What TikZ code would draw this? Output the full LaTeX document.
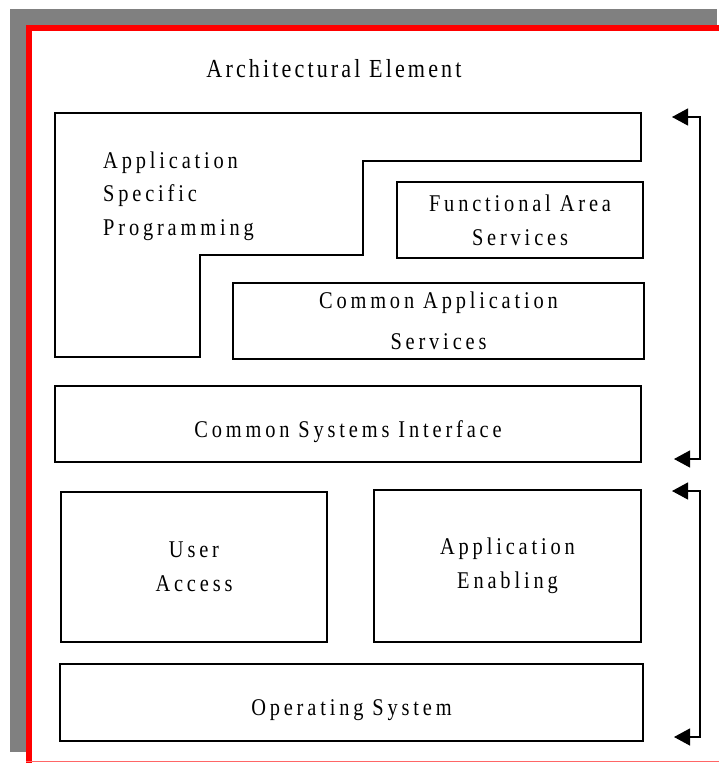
\documentclass[tikz,border=0pt]{standalone}
\usepackage{fontspec}
\newfontfamily\layerfont[FakeStretch=0.85,LetterSpace=16]{Liberation Serif}
\newfontfamily\titlefont[FakeStretch=0.85,LetterSpace=12]{Liberation Serif}
\usetikzlibrary{positioning, arrows.meta}
\newcommand{\layerarrow}{{Triangle[length=16pt,width=17pt]}-{Triangle[length=16pt,width=17pt]}}
\newcommand{\layersize}{\fontsize{24}{34}\selectfont}
\tikzset{
  layer/.style={draw, line width=1.2pt, align=center, inner sep=0pt,
    font=\layerfont\layersize},
  oneline/.style={text height=26pt, text depth=0pt},
}

\begin{document}
\begin{tikzpicture}[x=1pt, y=-1pt]
        \useasboundingbox (0,0) rectangle (719,763);
        % shadow and frame
        \fill[gray] (10,9) rectangle (717,752);
        \fill[white] (26,25) rectangle (719,763);
        \draw[red, line width=6pt] (29,763) -- (29,28) -- (719,28);
        \draw[red!60, line width=1.5pt] (26,761.5) -- (719,761.5);

        \node[inner sep=0pt, font=\titlefont\fontsize{26}{30}\selectfont] (title) at (334,69) {Architectural Element};

        % application layers
        \draw[line width=1.2pt] (55,113) -- (641,113) -- (641,161) -- (363,161)
        -- (363,255) -- (200,255) -- (200,357) -- (55,357) -- cycle;
        \node[anchor=west, align=left, inner sep=0pt, font=\layerfont\fontsize{24}{33.5}\selectfont] (asp) at (103,196) {Application\\Specific\\Programming};
        \node[layer, minimum width=246, minimum height=76] (fas) at (520,220) {Functional Area\\Services};
        \node[layer, minimum width=411, minimum height=76, font=\layerfont\fontsize{24}{41}\selectfont] (cas) at (438.5,321) {Common Application\\Services};
        \node[layer, oneline, minimum width=586, minimum height=76] (csi) at (348,424) {Common Systems Interface};

        % platform layers
        \node[layer, minimum width=266, minimum height=150] (ua) at (194,567) {User\\Access};
        \node[layer, minimum width=267, minimum height=152] (ae) at (507.5,566) {Application\\Enabling};
        \node[layer, oneline, minimum width=583, minimum height=77] (os) at (351.5,702.5) {Operating System};

        % brackets
        \coordinate (apptop) at (672,117);
        \coordinate (appbottom) at (674,459);
        \coordinate (plattop) at (672,491);
        \coordinate (platbottom) at (674,737);
        \draw[\layerarrow, line width=1.2pt] (apptop) -- ++(28,0) |- (appbottom);
        \draw[\layerarrow, line width=1.2pt] (plattop) -- ++(28,0) |- (platbottom);
    \end{tikzpicture}
\end{document}
